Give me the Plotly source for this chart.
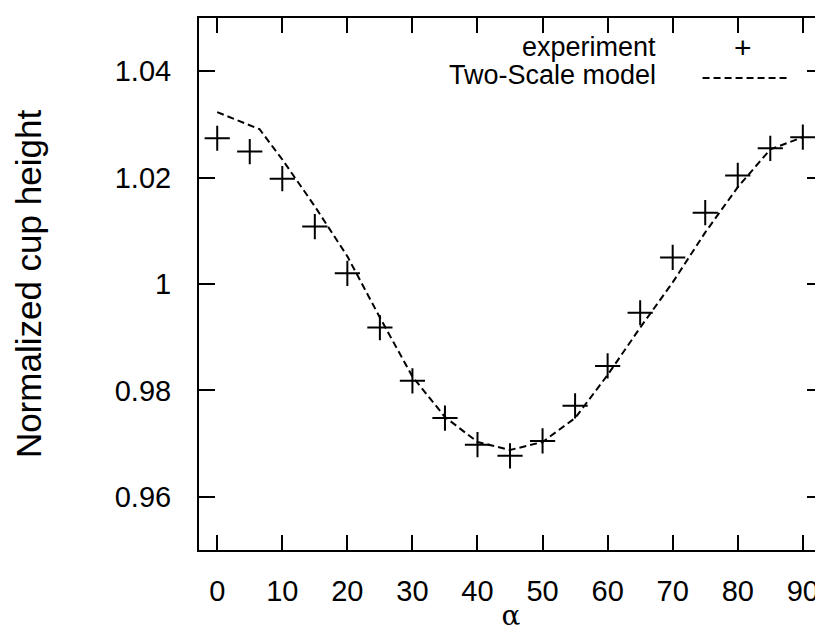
import plotly.graph_objects as go

# angle alpha (degrees)
alpha_exp = [0, 5, 10, 15, 20, 25, 30, 35, 40, 45, 50, 55, 60, 65, 70, 75, 80, 85, 90]
height_exp = [1.0274, 1.0249, 1.0198, 1.0108, 1.0020, 0.9918, 0.9818, 0.9748, 0.9698, 0.9677,
              0.9705, 0.9771, 0.9846, 0.9946, 1.0050, 1.0134, 1.0204, 1.0255, 1.0276]

alpha_model = [0, 6.5, 10, 15, 20, 25, 30, 35, 40, 45, 50, 55, 60, 65, 70, 75, 80, 85, 90]
height_model = [1.0323, 1.0291, 1.0234, 1.0146, 1.0052, 0.9937, 0.9826, 0.9750, 0.9703, 0.9688,
                0.9703, 0.9748, 0.9829, 0.9918, 1.0003, 1.0097, 1.0182, 1.0253, 1.0276]

x_ticks = [0, 10, 20, 30, 40, 50, 60, 70, 80, 90]
y_ticks = [0.96, 0.98, 1.0, 1.02, 1.04]
y_ticktext = ["0.96", "0.98", "1", "1.02", "1.04"]

FONT = "Liberation Sans, Arial, Helvetica, sans-serif"

fig = go.Figure()

fig.add_trace(go.Scatter(
    x=alpha_model, y=height_model, mode="lines", name="Two-Scale model",
    line=dict(color="black", width=2, dash="7px,4px"), showlegend=False
))
fig.add_trace(go.Scatter(
    x=alpha_exp, y=height_exp, mode="markers", name="experiment",
    marker=dict(symbol="cross-thin", size=18, line=dict(color="black", width=2)),
    showlegend=False
))

# gnuplot-style key: text on the left, sample on the right
fig.add_annotation(x=0.736, y=0.946, xref="paper", yref="paper", text="experiment",
                   showarrow=False, xanchor="right", yanchor="middle",
                   font=dict(family=FONT, size=27, color="black"))
fig.add_annotation(x=0.736, y=0.893, xref="paper", yref="paper", text="Two-Scale model",
                   showarrow=False, xanchor="right", yanchor="middle",
                   font=dict(family=FONT, size=27, color="black"))
fig.add_annotation(x=0.871, y=0.944, xref="paper", yref="paper", text="+",
                   showarrow=False, xanchor="center", yanchor="middle",
                   font=dict(family=FONT, size=30, color="black"))
fig.add_shape(type="line", xref="paper", yref="paper", x0=0.807, x1=0.944, y0=0.887, y1=0.887,
              line=dict(color="black", width=2, dash="7px,4px"))

fig.update_xaxes(
    range=[-2.8, 93.1], tickvals=x_ticks, ticks="inside", ticklen=15, tickwidth=2,
    tickcolor="black", showline=True, linecolor="black", linewidth=2, mirror="allticks",
    showgrid=False, zeroline=False, ticklabelstandoff=14,
    tickfont=dict(family=FONT, size=29, color="black"),
    title=dict(text="α", font=dict(family="DejaVu Serif, serif", size=28, color="black"), standoff=0)
)
fig.update_yaxes(
    range=[0.95, 1.05], tickvals=y_ticks, ticktext=y_ticktext, ticks="inside", ticklen=16,
    tickwidth=2, tickcolor="black", showline=True, linecolor="black", linewidth=2,
    mirror="allticks", showgrid=False, zeroline=False, ticklabelstandoff=20,
    tickfont=dict(family=FONT, size=29, color="black"),
    title=dict(text="Normalized cup height", font=dict(family=FONT, size=35, color="black"),
               standoff=62)
)

fig.update_layout(
    width=823, height=634,
    margin=dict(l=191, r=6, t=10, b=92),
    plot_bgcolor="white", paper_bgcolor="white",
    showlegend=False
)

fig.write_html("out.html")
